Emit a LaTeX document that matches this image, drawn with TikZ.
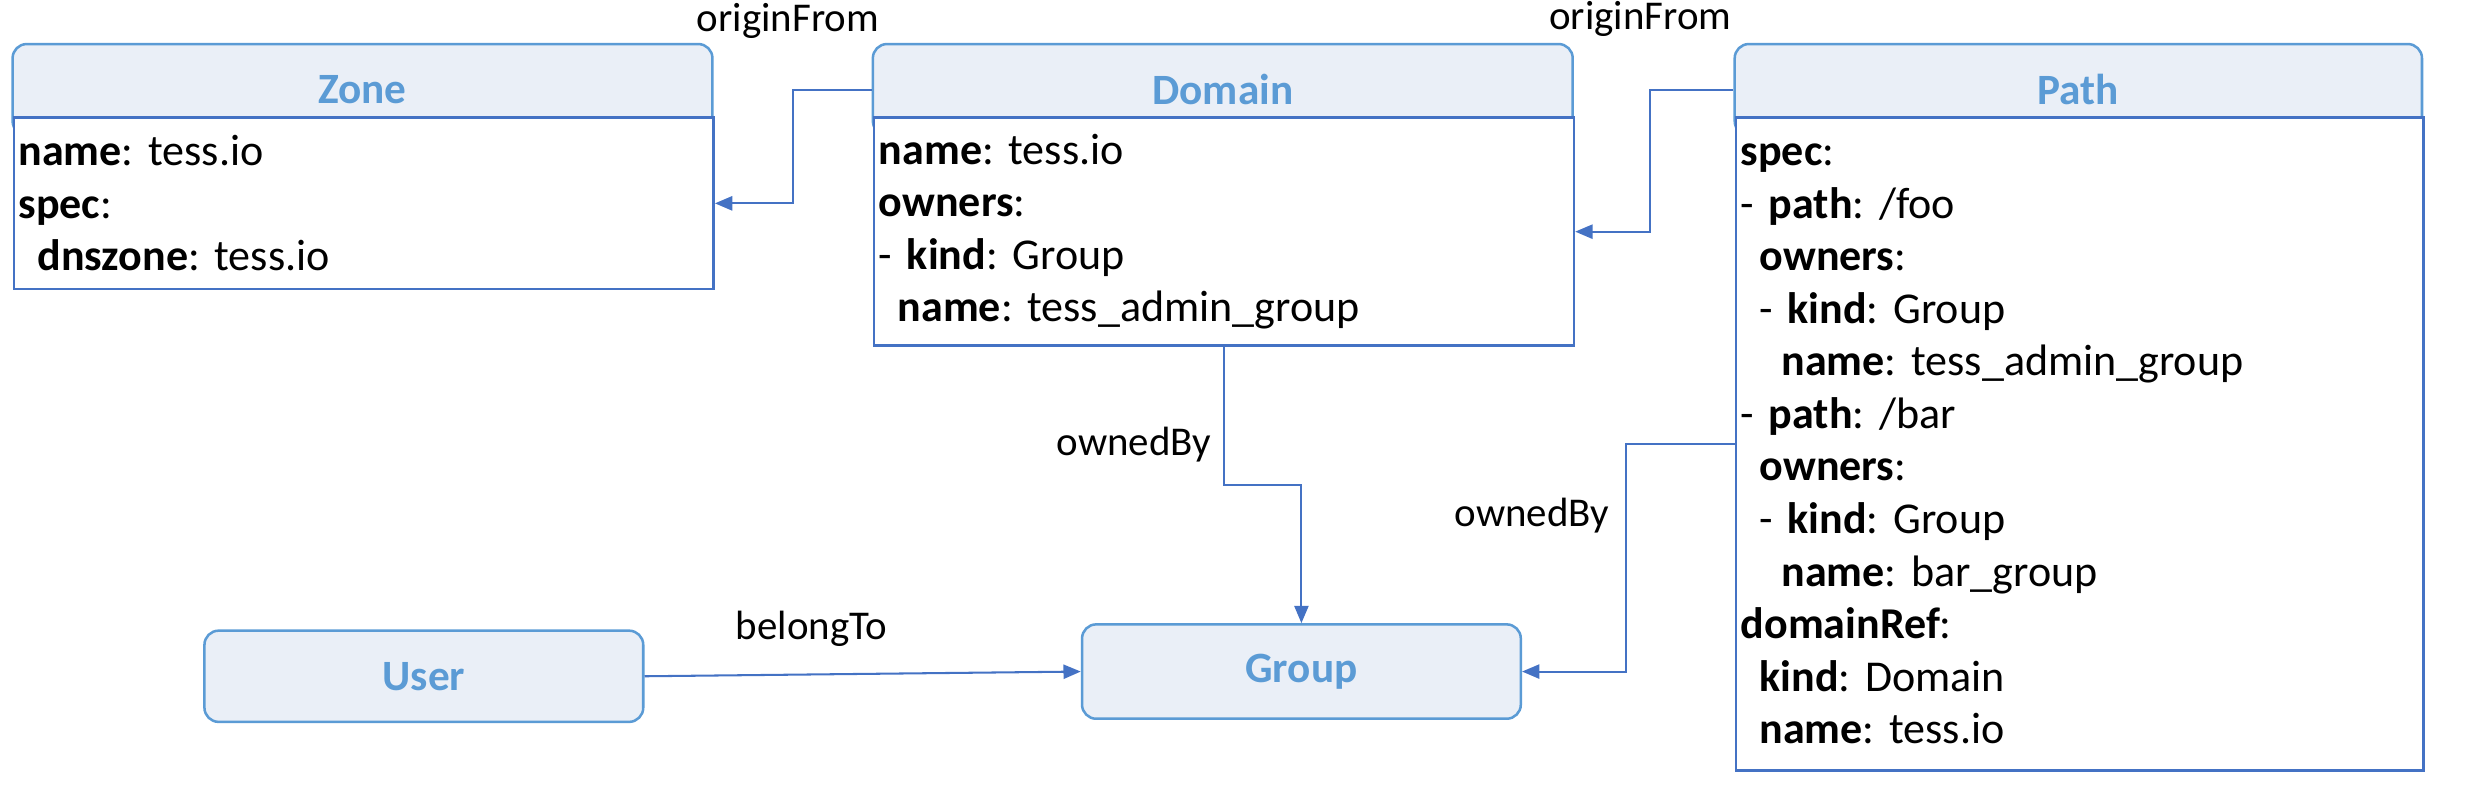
\documentclass[tikz,border=0pt]{standalone}
\usepackage{fontspec}
\setmainfont{Carlito}
\usetikzlibrary{arrows.meta}
\definecolor{hblue}{HTML}{5B9BD5}
\definecolor{bblue}{HTML}{4472C4}
\definecolor{hfill}{HTML}{EAEFF7}
\definecolor{lblue}{HTML}{4472C4}
\frenchspacing
\tikzset{
  hdr/.style={draw=hblue, line width=1.6pt, fill=hfill, rounded corners=9pt, text=hblue,
    font=\fontsize{27.5}{32}\selectfont\bfseries, minimum height=58pt, inner sep=0pt},
  bodybox/.style={draw=bblue, line width=1.6pt, fill=white, anchor=north west, align=left,
    font=\fontsize{28}{33.4}\selectfont, inner xsep=3pt, inner ysep=0pt},
  ent/.style={draw=hblue, line width=1.6pt, fill=hfill, rounded corners=9pt, text=hblue,
    font=\fontsize{27.5}{32}\selectfont\bfseries, minimum width=279pt, inner sep=0pt},
  conn/.style={draw=lblue, line width=1.3pt, -{Triangle[length=11pt,width=9pt]}},
  lbl/.style={font=\fontsize{26}{30}\selectfont, inner sep=0pt}
}
\begin{document}
\begin{tikzpicture}[x=1pt,y=-1pt]
\useasboundingbox (0,0) rectangle (1568,504);
% Zone
\node[hdr, minimum width=445pt] (zoneH) at (230.5,57) {Zone};
\node[bodybox, text width=439pt, minimum height=109pt] (zoneB) at (8,74)
 {\textbf{name}: tess.io\\
  \textbf{spec}:\\
  \hspace*{12pt}\textbf{dnszone}: tess.io};
% Domain
\node[hdr, minimum width=445pt] (domainH) at (777.5,57) {Domain};
\node[bodybox, text width=439pt, minimum height=145pt] (domainB) at (555,74)
 {\textbf{name}: tess.io\\
  \textbf{owners}:\\
  - \textbf{kind}: Group\\
  \hspace*{12pt}\textbf{name}: tess\_admin\_group};
% Path
\node[hdr, minimum width=437pt] (pathH) at (1321.5,57) {Path};
\node[bodybox, text width=431pt, minimum height=415pt] (pathB) at (1103,74)
 {\textbf{spec}:\\
  - \textbf{path}: /foo\\
  \hspace*{12pt}\textbf{owners}:\\
  \hspace*{12pt}- \textbf{kind}: Group\\
  \hspace*{26pt}\textbf{name}: tess\_admin\_group\\
  - \textbf{path}: /bar\\
  \hspace*{12pt}\textbf{owners}:\\
  \hspace*{12pt}- \textbf{kind}: Group\\
  \hspace*{26pt}\textbf{name}: bar\_group\\
  \textbf{domainRef}:\\
  \hspace*{12pt}\textbf{kind}: Domain\\
  \hspace*{12pt}\textbf{name}: tess.io};
% User, Group
\node[ent, minimum height=58pt] (user) at (269.5,430) {User};
\node[ent, minimum height=60pt] (group) at (827.5,427) {Group};
% connectors
\draw[conn] (domainH.west) -- ++(-50,0) |- (zoneB.east);
\draw[conn] (pathH.west) -- ++(-53,0) |- (domainB.east);
\draw[conn] (domainB.south) -- ++(0,88) -| (group.north);
\draw[conn] (pathB.west) -- ++(-69,0) |- (group.east);
\draw[conn] (user.east) -- (group.west);
% labels
\node[lbl] (lof1) at (501,13) {originFrom};
\node[lbl] (lof2) at (1043,12) {originFrom};
\node[lbl] (lob1) at (721,283) {ownedBy};
\node[lbl] (lob2) at (974,328) {ownedBy};
\node[lbl] (lbt) at (516,400) {belongTo};
\end{tikzpicture}
\end{document}
